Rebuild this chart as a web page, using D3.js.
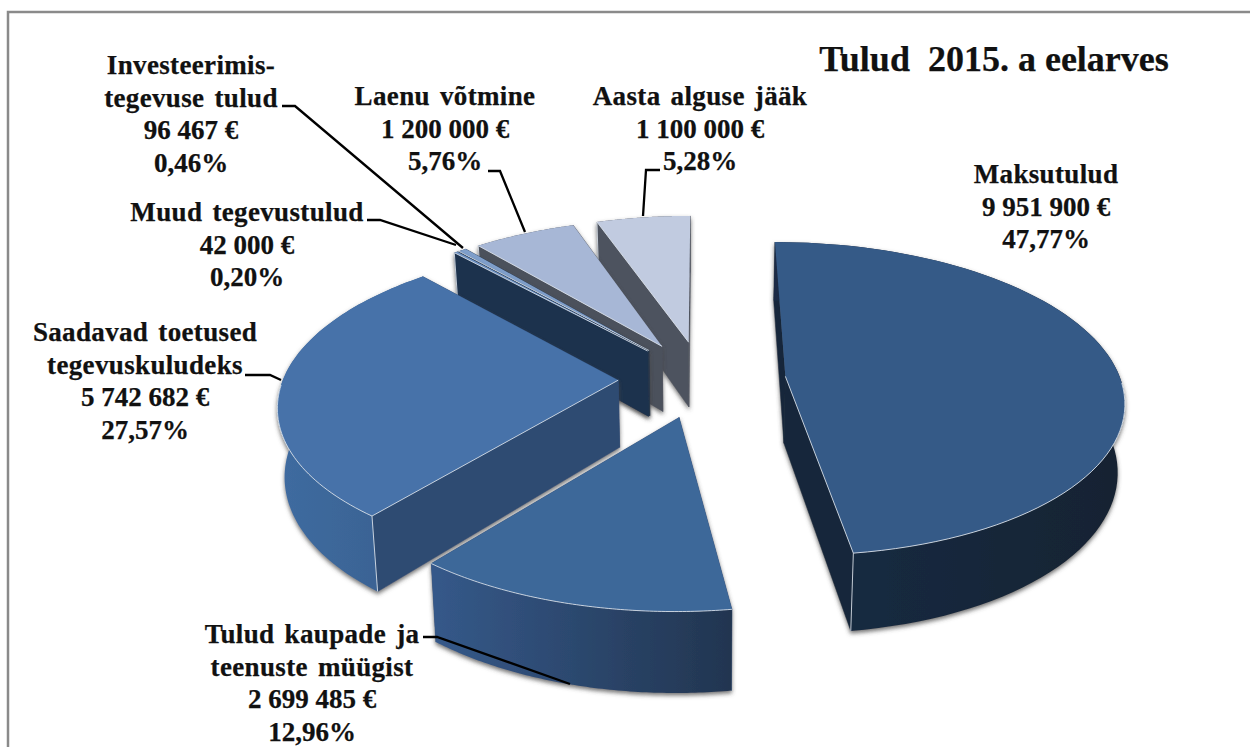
<!DOCTYPE html>
<html>
<head>
<meta charset="utf-8">
<script src="https://cdn.jsdelivr.net/npm/d3@7"></script>
<style>
	html, body { margin: 0; padding: 0; background: #fff; overflow: hidden; }
	text { font-family: "Liberation Serif", serif; font-weight: bold; fill: #111; stroke: #111; stroke-width: 0.25; }
</style>
</head>
<body>
<div id="container"></div>
<script>
// chart data
var title = "Tulud  2015. a eelarves";
var categories = ["Maksutulud", "Tulud kaupade ja teenuste müügist", "Saadavad toetused tegevuskuludeks",
	"Muud tegevustulud", "Investeerimis- tegevuse tulud", "Laenu võtmine", "Aasta alguse jääk"];
var values = [9951900, 2699485, 5742682, 42000, 96467, 1200000, 1100000];

// label line breaks, same order as categories
var labelLines = [
	["Maksutulud"],
	["Tulud kaupade ja", "teenuste müügist"],
	["Saadavad toetused", "tegevuskuludeks"],
	["Muud tegevustulud"],
	["Investeerimis-", "tegevuse tulud"],
	["Laenu võtmine"],
	["Aasta alguse jääk"]
];

// colours per slice: top, radial wall, outer wall left / right
var topColors = ["#365a87", "#3d6799", "#4672a9", "#6f93c4", "#7f9fcb", "#a7b7d6", "#c1cbe0"];
var wallColors = ["#15263a", "#2c4a72", "#2f4b72", "#1f334d", "#1f334d", "#4c515c", "#4e535e"];
var outerLeft = ["#1a2c45", "#35598a", "#3f6ba0", "#1f334d", "#1f334d", "#4c515c", "#4e535e"];
var outerRight = ["#142332", "#223550", "#38608f", "#1f334d", "#1f334d", "#4c515c", "#4e535e"];

// label anchor x and first baseline y
var labelX = [1046, 312, 145, 247, 191, 445, 700];
var labelY = [183, 643, 341, 221, 74, 105, 105];

// leader lines, same order (polyline from label to slice)
var leaders = [
	null,
	[[423, 637], [437, 637], [570, 684]],
	[[245, 375], [270, 375], [281, 380]],
	[[367, 220], [380, 220], [456, 245]],
	[[282, 106], [295, 106], [463, 248]],
	[[488, 171], [500, 171], [525, 232]],
	[[660, 170], [646, 170], [643, 216]]
];

var width = 1250, height = 747;

// pie geometry (unit radius, perspective camera)
var explode = 0.25, camDist = 7,
	cx = 702, horizon = -700, converge = 0.017,
	focalX = 335 * camDist, focalTop = 1079 * camDist, thick = 67 * camDist;

function project(X, Y, z) {
	var w = camDist - Y;
	return [cx + (1 - converge * z) * focalX * X / w, horizon + (focalTop + thick * z) / w];
}

var svg = d3.select("#container")
	.append("svg")
	.attr("width", width)
	.attr("height", height);

var defs = svg.append("defs");

var shadow = defs.append("filter")
	.attr("id", "shadow")
	.attr("x", "-5%").attr("y", "-5%").attr("width", "110%").attr("height", "110%");
shadow.append("feDropShadow")
	.attr("dx", 0).attr("dy", 2.5)
	.attr("stdDeviation", 2)
	.attr("flood-color", "#444")
	.attr("flood-opacity", 0.75);

// frame
svg.append("path")
	.attr("d", d3.line()([[8, height], [8, 12], [width, 12]]))
	.attr("fill", "none")
	.attr("stroke", "#8a8a8a")
	.attr("stroke-width", 2.5);

var pie = d3.pie().sort(null).value(function(d) { return d; });
var arcs = pie(values);
var openLine = d3.line();
var closedLine = d3.line().curve(d3.curveLinearClosed);

// painter order, far slices first
var drawOrder = [6, 5, 4, 3, 2, 0, 1];

drawOrder.forEach(function(i) {
	var a = arcs[i];
	var mid = (a.startAngle + a.endAngle) / 2;
	var ox = explode * Math.sin(mid), oy = -explode * Math.cos(mid);

	function pt(angle, r, z) {
		return project(ox + r * Math.sin(angle), oy - r * Math.cos(angle), z);
	}

	var angles = d3.range(0, 81).map(function(k) {
		return a.startAngle + (a.endAngle - a.startAngle) * k / 80;
	});

	var g = svg.append("g")
		.attr("filter", "url(#shadow)");

	// radial walls, far one first
	var walls = [a.startAngle, a.endAngle].sort(function(p, q) {
		return pt(p, 1, 0)[1] - pt(q, 1, 0)[1];
	});
	walls.forEach(function(w) {
		g.append("path")
			.attr("d", closedLine([pt(w, 0, 0), pt(w, 1, 0), pt(w, 1, 1), pt(w, 0, 1)]))
			.attr("fill", wallColors[i])
			.attr("stroke", wallColors[i])
			.attr("stroke-width", 0.5);
	});

	// outer wall
	var topEdge = angles.map(function(t) { return pt(t, 1, 0); });
	var bottomEdge = angles.map(function(t) { return pt(t, 1, 1); }).reverse();
	var xs = d3.extent(topEdge, function(p) { return p[0]; });

	var grad = defs.append("linearGradient")
		.attr("id", "outer" + i)
		.attr("gradientUnits", "userSpaceOnUse")
		.attr("x1", xs[0]).attr("x2", xs[1])
		.attr("y1", 0).attr("y2", 0);
	grad.append("stop").attr("offset", "0%").attr("stop-color", outerLeft[i]);
	grad.append("stop").attr("offset", "100%").attr("stop-color", outerRight[i]);

	g.append("path")
		.attr("d", closedLine(topEdge.concat(bottomEdge)))
		.attr("fill", "url(#outer" + i + ")");

	// top face
	g.append("path")
		.attr("d", closedLine([pt(a.startAngle, 0, 0)].concat(topEdge)))
		.attr("fill", topColors[i]);

	// light edges where the top meets a visible wall
	var edges = [];
	var frontArc = angles.filter(function(t) { return Math.cos(t) < -0.03; })
		.map(function(t) { return pt(t, 1, 0); });
	if (frontArc.length) edges.push(frontArc);
	if (Math.sin(a.startAngle) < -0.01) {
		edges.push([pt(a.startAngle, 0, 0), pt(a.startAngle, 1, 0)]);
		edges.push([pt(a.startAngle, 1, 0), pt(a.startAngle, 1, 1)]);
	}
	if (Math.sin(a.endAngle) > 0.01) {
		edges.push([pt(a.endAngle, 0, 0), pt(a.endAngle, 1, 0)]);
		edges.push([pt(a.endAngle, 1, 0), pt(a.endAngle, 1, 1)]);
	}
	edges.forEach(function(e) {
		g.append("path")
			.attr("d", openLine(e))
			.attr("fill", "none")
			.attr("stroke", "#dde4ec")
			.attr("stroke-width", 1)
			.attr("stroke-opacity", 0.85);
	});
});

// leader lines
leaders.forEach(function(l) {
	if (!l) return;
	svg.append("path")
		.attr("d", openLine(l))
		.attr("fill", "none")
		.attr("stroke", "#000")
		.attr("stroke-width", 2.3);
});

// labels: name lines, amount, percent
var locale = d3.formatLocale({ decimal: ",", thousands: "\u00a0", grouping: [3], currency: ["", "\u00a0€"], percent: "%" });
var fmtValue = locale.format("$,.0f");
var fmtPercent = locale.format(".2%");
var total = d3.sum(values);

categories.forEach(function(c, i) {
	var names = labelLines[i];
	var lines = names.concat([fmtValue(values[i]), fmtPercent(values[i] / total)]);
	var t = svg.append("text")
		.attr("class", "label")
		.attr("text-anchor", "middle")
		.attr("font-size", 27);
	lines.forEach(function(s, k) {
		t.append("tspan")
			.attr("x", labelX[i])
			.attr("y", labelY[i] + k * 32.7)
			.style("letter-spacing", k < names.length ? "0.35px" : "0")
			.style("word-spacing", k < names.length ? "3px" : "0")
			.text(s);
	});
});

// title
svg.append("text")
	.attr("x", 994)
	.attr("y", 71)
	.attr("text-anchor", "middle")
	.attr("font-size", 36)
	.style("white-space", "pre")
	.text(title);
</script>
</body>
</html>
